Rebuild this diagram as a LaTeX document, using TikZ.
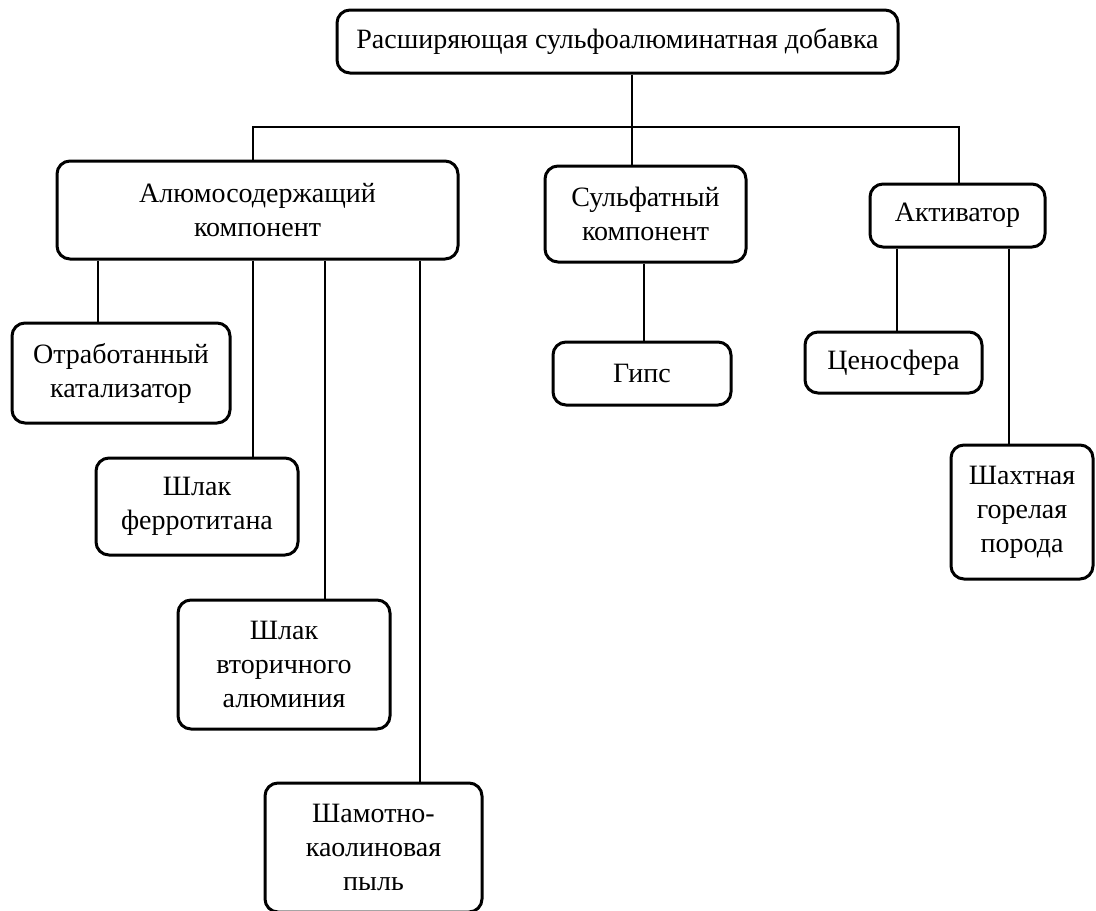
\documentclass[tikz,border=0pt]{standalone}
\usepackage{fontspec}
\setmainfont{Liberation Serif}
\usetikzlibrary{positioning}

\begin{document}
\begin{tikzpicture}
  [x=1pt,y=-1pt,
   every node/.style={draw=black,line width=3pt,rounded corners=13pt,inner sep=0pt,align=center,font=\fontsize{28}{34}\selectfont},
   link/.style={line width=1.3pt}]
  \useasboundingbox (0,0) rectangle (1096,911);
  \node[minimum width=561pt,minimum height=63pt] (top) at (617.5,41.5) {Расширяющая сульфоалюминатная добавка};
  \node[minimum width=401pt,minimum height=98pt] (alu) at (257.5,210) {Алюмосодержащий\\компонент};
  \node[minimum width=201pt,minimum height=96pt] (sulf) at (645.5,214) {Сульфатный\\компонент};
  \node[minimum width=175pt,minimum height=63pt] (act) at (957.5,215.5) {Активатор};
  \node[minimum width=218pt,minimum height=100pt] (otr) at (121,373) {Отработанный\\катализатор};
  \node[minimum width=202pt,minimum height=97pt] (ferro) at (197,506.5) {Шлак\\ферротитана};
  \node[minimum width=212pt,minimum height=129pt] (vtor) at (284,664.5) {Шлак\\вторичного\\алюминия};
  \node[minimum width=217pt,minimum height=129pt] (shamot) at (373.5,847.5) {Шамотно-\\каолиновая\\пыль};
  \node[minimum width=178pt,minimum height=63pt] (gips) at (642,373.5) {Гипс};
  \node[minimum width=177pt,minimum height=61pt] (ceno) at (893.5,362.5) {Ценосфера};
  \node[minimum width=142pt,minimum height=134pt] (shakht) at (1022,512) {Шахтная\\горелая\\порода};

  % bus under the top box
  \coordinate (ca) at (253,127);
  \coordinate (cs) at (632,127);
  \coordinate (cc) at (959,127);
  \draw[link] (top.south -| cs) -- (cs);
  \draw[link] (alu.north -| ca) -- (ca) -- (cc) -- (act.north -| cc);
  \draw[link] (cs) -- (sulf.north -| cs);

  % children
  \foreach \p/\n/\x in {alu/otr/98,alu/ferro/253,alu/vtor/325,alu/shamot/420,sulf/gips/644,act/ceno/897,act/shakht/1009} {
    \coordinate (col) at (\x,0);
    \draw[link] (\p.south -| col) -- (\n.north -| col);
  }
\end{tikzpicture}
\end{document}
